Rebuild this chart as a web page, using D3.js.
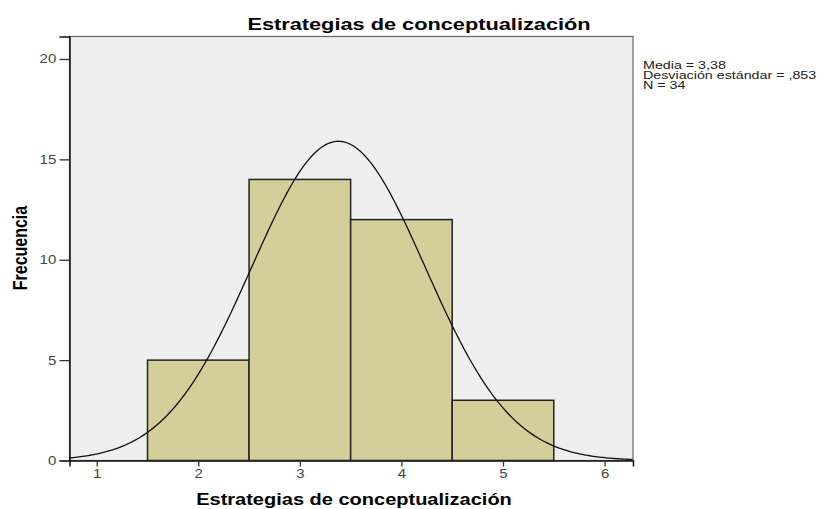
<!DOCTYPE html>
<html>
<head>
<meta charset="utf-8">
<script src="https://cdn.jsdelivr.net/npm/d3@7"></script>
<style>
	body { margin: 0; background: #fff; }
	text { font-family: 'Liberation Sans', Arial, sans-serif; }
</style>
</head>
<body>
<svg id="chart" width="826" height="509"></svg>
<script>
'use strict';

// histogram bins (lower edge, upper edge) and counts
var binStarts = [1.5, 2.5, 3.5, 4.5];
var binEnds = [2.5, 3.5, 4.5, 5.5];
var binCounts = [5, 14, 12, 3];

var xTicks = [1, 2, 3, 4, 5, 6];
var yTicks = [0, 5, 10, 15, 20];

// summary statistics shown in the legend, used for the normal curve
var statMean = 3.38;
var statSd = 0.853;
var statN = 34;
var statLines = ['Media = 3,38', 'Desviación estándar = ,853', 'N = 34'];

var margins = { left: 69.5, right: 193, top: 36.5, bottom: 48.5 };
var svg = d3.select('#chart');
var graphWidth = 826 - margins.left - margins.right;
var graphHeight = 509 - margins.top - margins.bottom;

// the source picture is stretched sideways, so text is widened to match
var stretch = 1.28;

var x = d3.scaleLinear().domain([0.732, 6.28]).range([0, graphWidth]);
var y = d3.scaleLinear().domain([0, 21.12]).range([graphHeight, 0]);

var g = svg.append('g').attr('transform', 'translate(' + margins.left + ',' + margins.top + ')');

g.append('rect')
	.attr('width', graphWidth)
	.attr('height', graphHeight)
	.attr('fill', '#efefef');

var bins = binCounts.map(function (c, i) {
	return { x0: binStarts[i], x1: binEnds[i], count: c };
});

g.selectAll('rect.bar').data(bins).enter().append('rect')
	.attr('class', 'bar')
	.attr('x', function (d) { return x(d.x0); })
	.attr('y', function (d) { return y(d.count); })
	.attr('width', function (d) { return x(d.x1) - x(d.x0); })
	.attr('height', function (d) { return graphHeight - y(d.count); })
	.attr('fill', '#d3ce9a')
	.attr('stroke', '#222')
	.attr('stroke-width', 1.5);

// normal curve scaled to counts (bin width 1)
var curvePts = d3.range(0, 301).map(function (i) {
	var v = x.domain()[0] + (x.domain()[1] - x.domain()[0]) * i / 300;
	var z = (v - statMean) / statSd;
	return [v, statN / (statSd * Math.sqrt(2 * Math.PI)) * Math.exp(-0.5 * z * z)];
});

g.append('path')
	.datum(curvePts)
	.attr('fill', 'none')
	.attr('stroke', '#111')
	.attr('stroke-width', 1.3)
	.attr('d', d3.line().x(function (d) { return x(d[0]); }).y(function (d) { return y(d[1]); }));

// frame
g.append('rect')
	.attr('width', graphWidth)
	.attr('height', graphHeight)
	.attr('fill', 'none')
	.attr('stroke', '#666')
	.attr('stroke-width', 1.2);

var xAxis = g.append('g')
	.attr('transform', 'translate(0,' + graphHeight + ')')
	.call(d3.axisBottom(x).tickValues(xTicks).tickSize(6).tickPadding(3).tickFormat(d3.format('d')));
var yAxis = g.append('g')
	.call(d3.axisLeft(y).tickValues(yTicks).tickSize(10).tickPadding(1).tickFormat(d3.format('d')));

[xAxis, yAxis].forEach(function (a) {
	a.select('.domain').attr('stroke', '#111').attr('stroke-width', 1.5);
	a.selectAll('.tick line').attr('stroke', '#333').attr('stroke-width', 1.3);
	a.selectAll('.tick text')
		.attr('fill', '#444')
		.attr('transform', 'scale(1.2,1)')
		.style('font-size', '12.5px')
		.style('font-family', "'Liberation Sans', Arial, sans-serif");
});

svg.append('text')
	.attr('transform', 'translate(419,30) scale(' + stretch + ',1)')
	.attr('text-anchor', 'middle')
	.style('font-size', '17px')
	.style('font-weight', 'bold')
	.text('Estrategias de conceptualización');

svg.append('text')
	.attr('transform', 'translate(354,505) scale(1.25,1)')
	.attr('text-anchor', 'middle')
	.style('font-size', '16px')
	.style('font-weight', 'bold')
	.text('Estrategias de conceptualización');

svg.append('text')
	.attr('transform', 'translate(27,248) scale(' + stretch + ',1) rotate(-90)')
	.attr('text-anchor', 'middle')
	.style('font-size', '16px')
	.style('font-weight', 'bold')
	.text('Frecuencia');

svg.selectAll('text.stat').data(statLines).enter().append('text')
	.attr('class', 'stat')
	.attr('transform', function (d, i) { return 'translate(643,' + (68.5 + i * 10.2) + ') scale(1.36,1)'; })
	.style('font-size', '10.5px')
	.attr('fill', '#222')
	.text(function (d) { return d; });
</script>
</body>
</html>
